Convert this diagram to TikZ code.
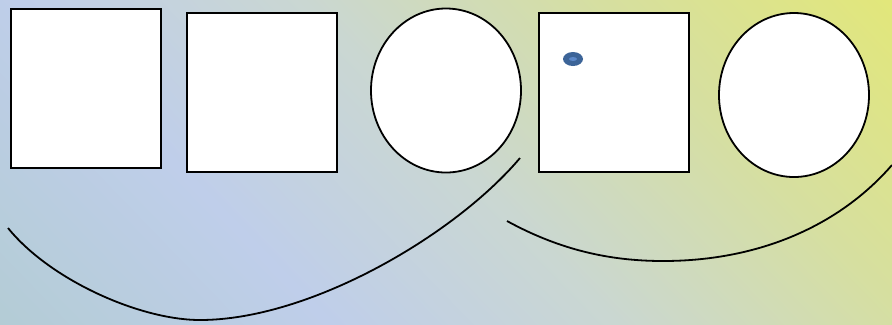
\documentclass[tikz,border=0pt]{standalone}
\usepackage{tikz}
\usetikzlibrary{shapes.geometric}
\definecolor{bgteal}{RGB}{179, 204, 212}
\definecolor{bgblue}{RGB}{191, 206, 234}
\definecolor{bggray}{RGB}{202, 215, 210}
\definecolor{bgolive}{RGB}{214, 223, 160}
\definecolor{bgyellow}{RGB}{226, 231, 122}
\definecolor{dotblue}{RGB}{60, 100, 152}
\definecolor{dotlight}{RGB}{92, 136, 200}
\pgfdeclarehorizontalshading{backdrop}{470bp}{color(0bp)=(bgteal); color(125bp)=(bgblue);
  color(228bp)=(bggray); color(335bp)=(bgolive); color(440bp)=(bgyellow); color(446bp)=(bgyellow)}

\begin{document}
\begin{tikzpicture}[x=0.5bp, y=-0.5bp,
    panel/.style={draw, line width=0.9bp, fill=white, inner sep=0pt,
      minimum width=75bp, minimum height=79.5bp},
    oval/.style={ellipse, draw, line width=0.9bp, fill=white, inner sep=0pt,
      minimum width=75bp, minimum height=82bp},
    sweep/.style={line width=0.9bp}]
  \useasboundingbox (0,0) rectangle (892,324);
  % Background gradient
  \begin{scope}
    \clip (0,0) rectangle (892,324);
    \node[inner sep=0pt, rotate=44] (backdrop) at (446,162) {\pgfuseshading{backdrop}};
  \end{scope}
  % Boxes and ovals
  \foreach \name/\x/\y in {boxA/86/88.5, boxB/262/92.5, boxC/614/92.5}{
    \node[panel] (\name) at (\x,\y) {};
  }
  \node[oval] (ovalA) at (446,90.5) {};
  \node[oval] (ovalB) at (794,95) {};
  % Small dot in the third box
  \node[ellipse, fill=dotblue, inner sep=0pt, minimum width=10bp, minimum height=7bp] (dot) at (573,59) {};
  \node[ellipse, fill=dotlight, inner sep=0pt, minimum width=4bp, minimum height=2bp] (dotcore) at (dot) {};
  % Sweeping arcs
  \coordinate (sweepAstart) at (8,228);
  \coordinate (sweepAlow) at (200,320);
  \coordinate (sweepAend) at (520,158);
  \draw[sweep] (sweepAstart) .. controls (50,280) and (140,320) .. (sweepAlow)
    .. controls (310,320) and (455,235) .. (sweepAend);
  \coordinate (sweepBstart) at (507,221);
  \coordinate (sweepBlow) at (663,261);
  \coordinate (sweepBend) at (892,165);
  \draw[sweep] (sweepBstart) .. controls (560,250) and (610,261) .. (sweepBlow)
    .. controls (760,261) and (840,225) .. (sweepBend);
\end{tikzpicture}
\end{document}
